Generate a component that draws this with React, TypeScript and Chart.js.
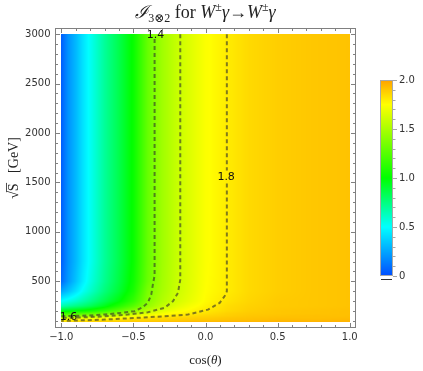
import React, { useEffect, useRef } from 'react';
import { Chart, registerables } from 'chart.js';

Chart.register(...registerables);

// ---------- data ----------
const cosGrid = [-1, -0.95, -0.9, -0.85, -0.8, -0.7, -0.6, -0.5, -0.4, -0.3, -0.2, -0.1, 0, 0.15, 0.3, 0.5, 0.75, 1];
const sqrtSGrid = [93, 110, 130, 150, 175, 200, 250, 300, 400, 500, 700, 3000];

const zRow93 = [1.82, 1.83, 1.84, 1.85, 1.86, 1.87, 1.88, 1.89, 1.9, 1.91, 1.92, 1.93, 1.93, 1.94, 1.94, 1.95, 1.95, 1.95];
const zRow110 = [1.76, 1.77, 1.78, 1.79, 1.795, 1.81, 1.83, 1.85, 1.86, 1.87, 1.88, 1.89, 1.9, 1.91, 1.92, 1.93, 1.93, 1.94];
const zRow130 = [1.6, 1.62, 1.64, 1.66, 1.68, 1.72, 1.76, 1.79, 1.82, 1.84, 1.86, 1.87, 1.88, 1.9, 1.91, 1.92, 1.92, 1.93];
const zRow150 = [1.35, 1.38, 1.4, 1.43, 1.46, 1.58, 1.63, 1.7, 1.75, 1.79, 1.82, 1.84, 1.86, 1.88, 1.9, 1.91, 1.92, 1.92];
const zRow175 = [1.15, 1.18, 1.2, 1.23, 1.26, 1.33, 1.42, 1.55, 1.65, 1.72, 1.77, 1.8, 1.83, 1.87, 1.89, 1.9, 1.91, 1.92];
const zRow200 = [0.95, 0.98, 1.0, 1.03, 1.07, 1.16, 1.28, 1.41, 1.56, 1.66, 1.73, 1.77, 1.81, 1.85, 1.88, 1.9, 1.91, 1.92];
const zRow250 = [0.65, 0.7, 0.74, 0.78, 0.83, 0.95, 1.1, 1.25, 1.43, 1.57, 1.66, 1.73, 1.78, 1.84, 1.87, 1.89, 1.9, 1.91];
const zRow300 = [0.5, 0.55, 0.6, 0.66, 0.72, 0.85, 0.98, 1.15, 1.39, 1.52, 1.62, 1.69, 1.76, 1.82, 1.86, 1.89, 1.9, 1.91];
const zRow400 = [0.25, 0.33, 0.42, 0.52, 0.6, 0.76, 0.9, 1.07, 1.36, 1.49, 1.595, 1.67, 1.75, 1.8, 1.85, 1.88, 1.9, 1.91];
const zRow500 = [0.08, 0.22, 0.33, 0.45, 0.55, 0.72, 0.87, 1.04, 1.31, 1.48, 1.585, 1.665, 1.745, 1.8, 1.85, 1.88, 1.9, 1.91];
const zRow700 = [0.05, 0.2, 0.3, 0.42, 0.52, 0.7, 0.85, 1.02, 1.3, 1.47, 1.58, 1.66, 1.74, 1.8, 1.85, 1.88, 1.9, 1.91];
const zRow3000 = [0.05, 0.2, 0.3, 0.42, 0.52, 0.7, 0.85, 1.02, 1.3, 1.47, 1.58, 1.66, 1.74, 1.8, 1.85, 1.88, 1.9, 1.91];
const zGrid = [zRow93, zRow110, zRow130, zRow150, zRow175, zRow200, zRow250, zRow300, zRow400, zRow500, zRow700, zRow3000];

const contour14 = [
  { x: -0.353, y: 2950 }, { x: -0.353, y: 558 }, { x: -0.365, y: 467 }, { x: -0.376, y: 366 },
  { x: -0.399, y: 285 }, { x: -0.434, y: 238 }, { x: -0.492, y: 198 }, { x: -0.584, y: 181 },
  { x: -0.7, y: 164 }, { x: -0.818, y: 154 }, { x: -1, y: 147 },
];
const contour16 = [
  { x: -0.175, y: 3000 }, { x: -0.175, y: 517 }, { x: -0.191, y: 383 }, { x: -0.226, y: 298 },
  { x: -0.284, y: 232 }, { x: -0.399, y: 187 }, { x: -0.538, y: 164 }, { x: -0.7, y: 147 },
  { x: -0.816, y: 137 }, { x: -1, y: 129 },
];
const contour18Upper = [{ x: 0.148, y: 3000 }, { x: 0.148, y: 1620 }];
const contour18Lower = [
  { x: 0.148, y: 1490 }, { x: 0.148, y: 399 }, { x: 0.132, y: 349 }, { x: 0.098, y: 282 },
  { x: 0.017, y: 214 }, { x: -0.122, y: 164 }, { x: -0.284, y: 147 }, { x: -0.469, y: 131 },
  { x: -0.7, y: 113 }, { x: -0.908, y: 103 }, { x: -1, y: 100 },
];
const contourLabelText = ['1.4', '1.8', '1.6'];
const contourLabelX = [-0.346, 0.143, -0.95];
const contourLabelY = [2990, 1557, 134];

const xMajorTicks = [-1, -0.5, 0, 0.5, 1];
const yMajorTicks = [500, 1000, 1500, 2000, 2500, 3000];
const colorbarTicks = [0, 0.5, 1, 1.5, 2];
const colorbarLabels = ['0', '0.5', '1.0', '1.5', '2.0'];

const cmapValues = [0, 0.5, 1, 1.5, 1.75, 2];
const cmapHues = [222, 180, 120, 80, 60, 38];

// ---------- helpers ----------
const SANS = '"DejaVu Sans", sans-serif';
const SERIF = '"Liberation Serif", "DejaVu Serif", serif';

function hsv(h: number): [number, number, number] {
  const hh = ((h % 360) + 360) % 360 / 60;
  const i = Math.floor(hh);
  const f = hh - i;
  const q = 1 - f;
  let r = 0, g = 0, b = 0;
  switch (i) {
    case 0: r = 1; g = f; b = 0; break;
    case 1: r = q; g = 1; b = 0; break;
    case 2: r = 0; g = 1; b = f; break;
    case 3: r = 0; g = q; b = 1; break;
    case 4: r = f; g = 0; b = 1; break;
    default: r = 1; g = 0; b = q;
  }
  return [Math.round(r * 255), Math.round(g * 255), Math.round(b * 255)];
}

function colorFor(z: number): [number, number, number] {
  const zz = Math.max(cmapValues[0], Math.min(cmapValues[cmapValues.length - 1], z));
  let k = 0;
  while (k < cmapValues.length - 2 && zz > cmapValues[k + 1]) k++;
  const t = (zz - cmapValues[k]) / (cmapValues[k + 1] - cmapValues[k]);
  return hsv(cmapHues[k] + t * (cmapHues[k + 1] - cmapHues[k]));
}

function locate(arr: number[], v: number): [number, number] {
  const vv = Math.max(arr[0], Math.min(arr[arr.length - 1], v));
  let k = 0;
  while (k < arr.length - 2 && vv > arr[k + 1]) k++;
  return [k, (vv - arr[k]) / (arr[k + 1] - arr[k])];
}

function sample(c: number, s: number): number {
  const [i, tx] = locate(cosGrid, c);
  const [j, ty] = locate(sqrtSGrid, s);
  const a = zGrid[j][i] * (1 - tx) + zGrid[j][i + 1] * tx;
  const b = zGrid[j + 1][i] * (1 - tx) + zGrid[j + 1][i + 1] * tx;
  return a * (1 - ty) + b * ty;
}

type Piece = { t: string; font: string; dy?: number; over?: number };
function drawRich(ctx: CanvasRenderingContext2D, pieces: Piece[], cx: number, base: number) {
  let total = 0;
  const widths = pieces.map((p) => { ctx.font = p.font; const w = ctx.measureText(p.t).width; total += w; return w; });
  let x = cx - total / 2;
  ctx.textAlign = 'left';
  ctx.textBaseline = 'alphabetic';
  pieces.forEach((p, k) => {
    ctx.font = p.font;
    ctx.fillText(p.t, x, base + (p.dy || 0));
    if (p.over) {
      ctx.beginPath();
      ctx.lineWidth = 0.8;
      ctx.moveTo(x - 1, base - p.over);
      ctx.lineTo(x + widths[k] + 0.5, base - p.over);
      ctx.stroke();
    }
    x += widths[k];
  });
}

const heatmapPlugin = {
  id: 'heatmap',
  beforeDatasetsDraw(chart: any) {
    const { ctx } = chart;
    const xs = chart.scales.x;
    const ys = chart.scales.y;
    const x0 = Math.round(xs.getPixelForValue(cosGrid[0]));
    const x1 = Math.round(xs.getPixelForValue(cosGrid[cosGrid.length - 1]));
    const y0 = Math.round(ys.getPixelForValue(sqrtSGrid[sqrtSGrid.length - 1]));
    const y1 = Math.round(ys.getPixelForValue(sqrtSGrid[0]));
    const w = x1 - x0;
    const h = y1 - y0;
    const off = document.createElement('canvas');
    off.width = w;
    off.height = h;
    const octx = off.getContext('2d')!;
    const img = octx.createImageData(w, h);
    for (let j = 0; j < h; j++) {
      const s = ys.getValueForPixel(y0 + j + 0.5);
      for (let i = 0; i < w; i++) {
        const c = xs.getValueForPixel(x0 + i + 0.5);
        const [r, g, b] = colorFor(sample(c, s));
        const o = (j * w + i) * 4;
        img.data[o] = r; img.data[o + 1] = g; img.data[o + 2] = b; img.data[o + 3] = 255;
      }
    }
    octx.putImageData(img, 0, 0);
    ctx.save();
    ctx.drawImage(off, x0, y0);
    ctx.restore();
  },
  afterDatasetsDraw(chart: any) {
    const { ctx } = chart;
    const xs = chart.scales.x;
    const ys = chart.scales.y;
    ctx.save();
    ctx.font = `11px ${SANS}`;
    ctx.fillStyle = '#111';
    ctx.textAlign = 'center';
    ctx.textBaseline = 'middle';
    contourLabelText.forEach((t, k) => {
      ctx.fillText(t, xs.getPixelForValue(contourLabelX[k]), ys.getPixelForValue(contourLabelY[k]));
    });
    ctx.restore();
  },
  afterDraw(chart: any) {
    const { ctx, chartArea: a } = chart;
    const xs = chart.scales.x;
    const ys = chart.scales.y;
    ctx.save();
    // frame
    const L = Math.floor(a.left) + 0.5, R = Math.floor(a.right) + 0.5;
    const T = Math.floor(a.top) + 0.5, B = Math.floor(a.bottom) + 0.5;
    ctx.strokeStyle = '#808080';
    ctx.lineWidth = 1;
    ctx.strokeRect(L, T, R - L, B - T);
    // ticks
    ctx.beginPath();
    for (let k = -10; k <= 10; k++) {
      const v = k / 10;
      const major = xMajorTicks.some((m) => Math.abs(m - v) < 1e-9);
      const len = major ? 4.5 : 2.5;
      const px = Math.round(xs.getPixelForValue(v)) + 0.5;
      ctx.moveTo(px, B); ctx.lineTo(px, B - len);
      ctx.moveTo(px, T); ctx.lineTo(px, T + len);
    }
    for (let v = 100; v <= 3000; v += 100) {
      const major = yMajorTicks.includes(v);
      const len = major ? 4.5 : 2.5;
      const py = Math.round(ys.getPixelForValue(v)) + 0.5;
      ctx.moveTo(L, py); ctx.lineTo(L + len, py);
      ctx.moveTo(R, py); ctx.lineTo(R - len, py);
    }
    ctx.stroke();

    // colorbar
    const cbL = 380, cbR = 393, cbT = 80, cbB = 276;
    const cbMin = colorbarTicks[0], cbMax = colorbarTicks[colorbarTicks.length - 1];
    const cbY = (v: number) => cbB - (v - cbMin) / (cbMax - cbMin) * (cbB - cbT);
    for (let py = cbT; py < cbB; py++) {
      const v = cbMin + (cbB - (py + 0.5)) / (cbB - cbT) * (cbMax - cbMin);
      const [r, g, b] = colorFor(v);
      ctx.fillStyle = `rgb(${r},${g},${b})`;
      ctx.fillRect(cbL, py, cbR - cbL, 1);
    }
    ctx.strokeStyle = '#a8a8a8';
    ctx.strokeRect(cbL + 0.5, cbT + 0.5, cbR - cbL - 1, cbB - cbT - 1);
    ctx.beginPath();
    for (let k = 0; k <= 20; k++) {
      const v = cbMin + k * 0.1;
      const major = colorbarTicks.some((m) => Math.abs(m - v) < 1e-9);
      const py = Math.round(cbY(v)) + 0.5;
      ctx.moveTo(cbR, py); ctx.lineTo(cbR + (major ? 4 : 2.5), py);
    }
    ctx.stroke();
    ctx.strokeStyle = '#333';
    ctx.beginPath();
    ctx.moveTo(cbL + 1, cbB + 3.5); ctx.lineTo(cbR - 1, cbB + 3.5);
    ctx.stroke();
    ctx.fillStyle = '#333';
    ctx.font = `10px ${SANS}`;
    ctx.textAlign = 'left';
    ctx.textBaseline = 'middle';
    colorbarTicks.forEach((v, k) => ctx.fillText(colorbarLabels[k], cbR + 6, cbY(v)));

    // title
    ctx.fillStyle = '#222';
    ctx.strokeStyle = '#222';
    const big = `18px ${SERIF}`;
    const bigI = `italic 18px ${SERIF}`;
    const small = `12px ${SERIF}`;
    drawRich(ctx, [
      { t: '\u2110', font: bigI },
      { t: '3\u22972', font: small, dy: 4 },
      { t: ' for ', font: big },
      { t: 'W', font: bigI },
      { t: '\u00b1', font: small, dy: -7 },
      { t: '\u03b3', font: bigI },
      { t: '\u2192', font: big },
      { t: 'W', font: bigI },
      { t: '\u00b1', font: small, dy: -7 },
      { t: '\u03b3', font: bigI },
    ], (a.left + a.right) / 2, 18);

    // x title
    const axf = `13px ${SERIF}`;
    const axfI = `italic 13px ${SERIF}`;
    drawRich(ctx, [
      { t: 'cos(', font: axf },
      { t: '\u03b8', font: axfI },
      { t: ')', font: axf },
    ], (a.left + a.right) / 2, 364);

    // y title
    const ayf = `14px ${SERIF}`;
    ctx.save();
    ctx.translate(13, 168);
    ctx.rotate(-Math.PI / 2);
    drawRich(ctx, [
      { t: '\u221a', font: ayf },
      { t: 'S', font: ayf, over: 11.5 },
      { t: '   [GeV]', font: ayf },
    ], 0, 5);
    ctx.restore();

    ctx.restore();
  },
};

const fmtX = (v: number) => (v < 0 ? '\u2212' + Math.abs(v).toFixed(1) : v.toFixed(1));

export default function App() {
  const ref = useRef<HTMLCanvasElement>(null);
  useEffect(() => {
    const lineStyle = {
      showLine: true,
      pointRadius: 0,
      borderWidth: 2,
      borderColor: 'rgba(45,45,45,0.6)',
      borderDash: [4, 3],
      tension: 0,
      fill: false,
    };
    const chart = new Chart(ref.current!, {
      type: 'scatter',
      data: {
        datasets: [
          { ...lineStyle, label: '1.4', data: contour14 },
          { ...lineStyle, label: '1.6', data: contour16 },
          { ...lineStyle, label: '1.8', data: contour18Upper },
          { ...lineStyle, label: '1.8b', data: contour18Lower },
        ],
      } as any,
      options: {
        responsive: false,
        animation: false,
        devicePixelRatio: 1,
        layout: { padding: { left: 0, top: 28.5, right: 67.5, bottom: 0 } },
        plugins: { legend: { display: false }, title: { display: false }, tooltip: { enabled: false } },
        scales: {
          x: {
            type: 'linear',
            min: -1.04,
            max: 1.04,
            position: 'bottom',
            grid: { display: false, drawTicks: false },
            border: { display: false },
            afterBuildTicks: (s: any) => { s.ticks = xMajorTicks.map((v) => ({ value: v })); },
            afterFit: (s: any) => { s.height = 43.5; },
            ticks: {
              padding: 4,
              color: '#333',
              font: { family: SANS, size: 10 },
              maxRotation: 0,
              autoSkip: false,
              callback: (v: any) => fmtX(Number(v)),
            },
          },
          y: {
            type: 'linear',
            min: 33,
            max: 3057,
            position: 'left',
            grid: { display: false, drawTicks: false },
            border: { display: false },
            afterBuildTicks: (s: any) => { s.ticks = yMajorTicks.map((v) => ({ value: v })); },
            afterFit: (s: any) => { s.width = 55.5; },
            ticks: {
              padding: 5,
              color: '#333',
              font: { family: SANS, size: 10 },
              autoSkip: false,
              callback: (v: any) => String(v),
            },
          },
        },
      } as any,
      plugins: [heatmapPlugin],
    });
    return () => chart.destroy();
  }, []);
  return (
    <div style={{ position: 'fixed', left: 0, top: 0, width: 423, height: 371, background: '#fff' }}>
      <canvas ref={ref} width={423} height={371} style={{ display: 'block', width: 423, height: 371 }} />
    </div>
  );
}
